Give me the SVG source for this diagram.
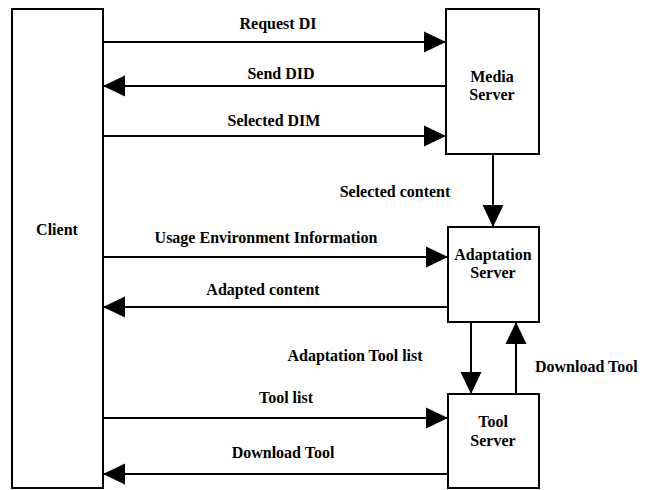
<svg xmlns="http://www.w3.org/2000/svg" width="651" height="490" viewBox="0 0 651 490">
<style>
.box{fill:#fff;stroke:#000;stroke-width:2}
.ln{stroke:#000;stroke-width:2;fill:none}
text{font-family:"Liberation Serif","Times New Roman",serif;font-weight:bold;font-size:16px;fill:#000}
.c{text-anchor:middle}
</style>
<defs>
<marker id="ah" markerUnits="userSpaceOnUse" markerWidth="22" markerHeight="22" viewBox="0 0 21 20" refX="21" refY="10" orient="auto">
<path d="M0,0 L21,10 L0,20 Z" fill="#000"/>
</marker>
</defs>
<rect width="651" height="490" fill="#fff"/>
<g id="client"><rect class="box" x="12" y="9" width="91" height="479"/><text class="c" x="57" y="235">Client</text></g>
<g id="media"><rect class="box" x="446" y="9" width="93" height="145"/><text class="c" x="492" y="82">Media</text><text class="c" x="492" y="100">Server</text></g>
<g id="adapt"><rect class="box" x="448" y="227" width="91" height="95"/><text class="c" x="493" y="260">Adaptation</text><text class="c" x="493" y="278">Server</text></g>
<g id="tool"><rect class="box" x="448" y="394" width="91" height="94"/><text class="c" x="493" y="427">Tool</text><text class="c" x="493" y="446">Server</text></g>
<g id="connectors">
<line class="ln" x1="103" y1="42" x2="446" y2="42" marker-end="url(#ah)"/>
<line class="ln" x1="446" y1="86" x2="103" y2="86" marker-end="url(#ah)"/>
<line class="ln" x1="103" y1="136" x2="446" y2="136" marker-end="url(#ah)"/>
<line class="ln" x1="493" y1="154" x2="493" y2="227" marker-end="url(#ah)"/>
<line class="ln" x1="103" y1="257" x2="448" y2="257" marker-end="url(#ah)"/>
<line class="ln" x1="448" y1="307" x2="103" y2="307" marker-end="url(#ah)"/>
<line class="ln" x1="471" y1="322" x2="471" y2="394" marker-end="url(#ah)"/>
<line class="ln" x1="516" y1="394" x2="516" y2="322" marker-end="url(#ah)"/>
<line class="ln" x1="103" y1="418" x2="448" y2="418" marker-end="url(#ah)"/>
<line class="ln" x1="448" y1="474" x2="103" y2="474" marker-end="url(#ah)"/>
<text class="c" x="278" y="29">Request DI</text>
<text class="c" x="281" y="79">Send DID</text>
<text class="c" x="274" y="126">Selected DIM</text>
<text class="c" x="395" y="197">Selected content</text>
<text class="c" x="266" y="243">Usage Environment Information</text>
<text class="c" x="263" y="295">Adapted content</text>
<text class="c" x="355" y="361">Adaptation Tool list</text>
<text x="535" y="372">Download Tool</text>
<text class="c" x="286" y="403">Tool list</text>
<text class="c" x="283" y="458">Download Tool</text>
</g>
</svg>
